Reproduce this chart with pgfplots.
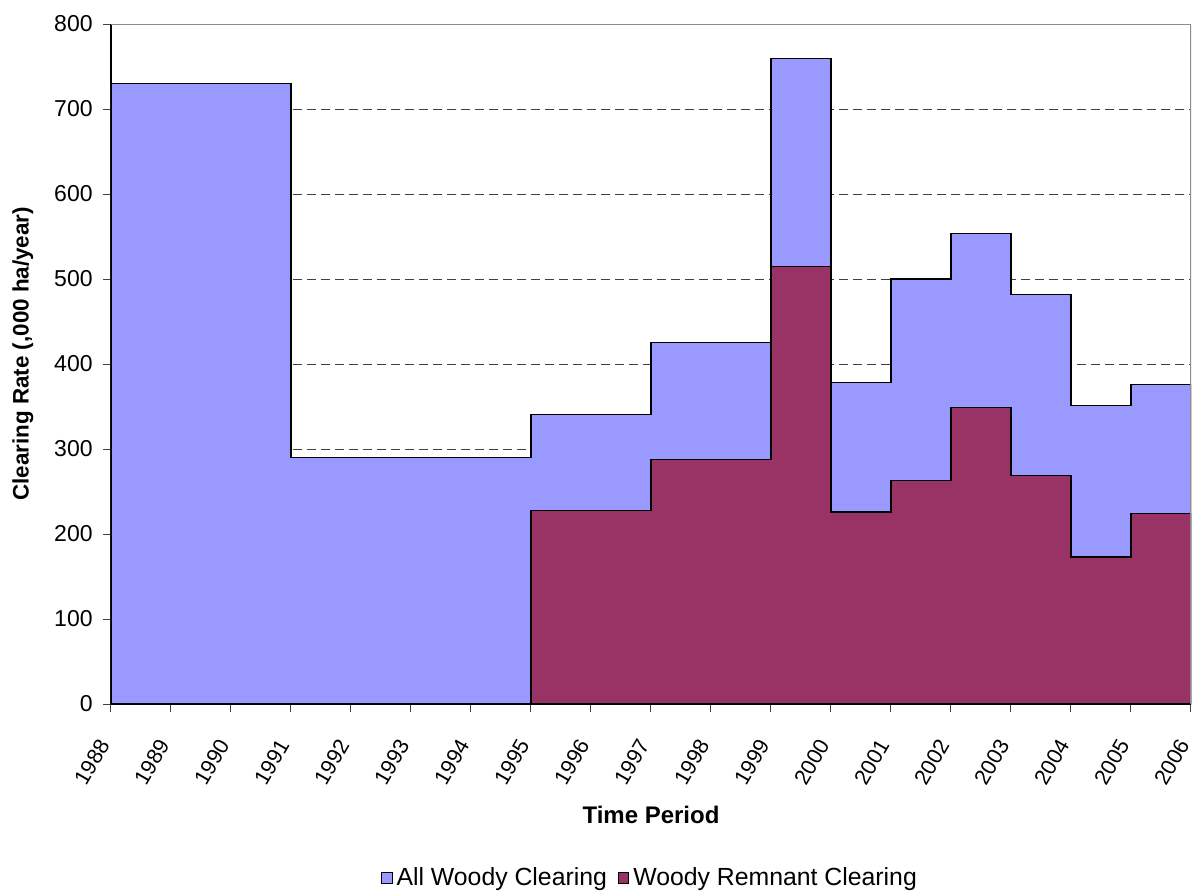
\documentclass[border=0pt]{standalone}
\usepackage{fontspec}
\setmainfont{Liberation Sans}
\usepackage{pgfplots}
\pgfplotsset{compat=1.18}
\definecolor{allwoody}{HTML}{9999FF}
\definecolor{remnant}{HTML}{993366}
\begin{document}
\fontsize{12}{14}\selectfont
\begin{tikzpicture}
\path[use as bounding box] (-55.5pt,-93pt) rectangle (540.5pt,352pt);
\begin{axis}[
  at={(0,0)}, anchor=south west,
  scale only axis,
  width=540pt, height=340pt,
  xmin=1988, xmax=2006, ymin=0, ymax=800,
  axis lines=left,
  axis line style={-},
  x axis line style={line width=1pt},
  y axis line style={line width=0.6pt},
  xtick={1988,1989,...,2006},
  ytick={0,100,...,800},
  tick align=outside,
  major tick length=4pt,
  tick style={black!75, line width=0.5pt},
  /pgf/number format/assume math mode=true,
  /pgf/number format/1000 sep={},
  yticklabel style={font=\fontsize{11.5}{14}\selectfont, anchor=east, inner sep=0pt, xshift=-5pt},
  xticklabel style={font=\fontsize{10.8}{13}\selectfont, inner sep=0pt, yshift=-16.5pt, rotate=60, anchor=south east},
  ymajorgrids,
  grid style={black!75, line width=0.5pt, dash pattern=on 4.5pt off 2.5pt},
  xlabel={\bfseries Time Period},
  ylabel={\bfseries Clearing Rate (,000 ha/year)},
  xlabel style={at={(axis description cs:0.5,-0.1632)}, anchor=center, font=\fontsize{12}{14}\selectfont},
  ylabel style={at={(axis description cs:-0.0815,0.515)}, anchor=center, font=\fontsize{11.2}{14}\selectfont},
  legend columns=2,
  legend style={at={(axis description cs:0.5,-0.2559)}, anchor=center, draw=none, fill=none,
    font=\fontsize{12.4}{14}\selectfont,
    /tikz/every even column/.append style={column sep=3.5pt}},
  legend image code/.code={\draw[#1, draw=black, line width=0.5pt] (0pt,-2.7pt) rectangle (5.2pt,2.7pt);},
]
\addplot[const plot, fill=allwoody, draw=black, line width=0.6pt] coordinates {
  (1988,730) (1991,290) (1995,341) (1997,425) (1999,759) (2000,378)
  (2001,500) (2002,554) (2003,482) (2004,351) (2005,376) (2006,376)
} \closedcycle;
\addlegendentry{All Woody Clearing}
\addplot[const plot, fill=remnant, draw=black, line width=0.6pt] coordinates {
  (1995,228) (1997,288) (1999,515) (2000,226) (2001,263) (2002,349)
  (2003,269) (2004,173) (2005,224) (2006,224)
} \closedcycle;
\addlegendentry{Woody Remnant Clearing}
\draw[black!45, line width=0.7pt] (rel axis cs:0,1) -- (rel axis cs:1,1) -- (rel axis cs:1,0);
\end{axis}
\end{tikzpicture}
\end{document}
